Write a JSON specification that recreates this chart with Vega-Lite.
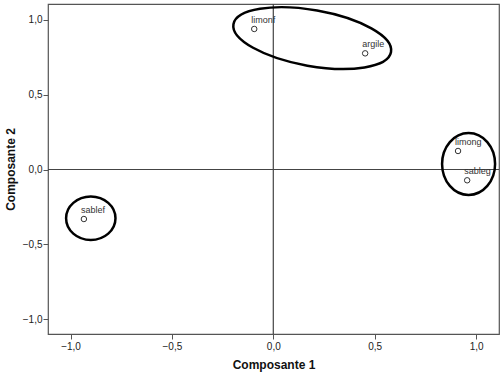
{
  "$schema": "https://vega.github.io/schema/vega-lite/v6.json",
  "width": 451,
  "height": 330,
  "autosize": "none",
  "padding": {"left": 48, "top": 4, "right": 4, "bottom": 44},
  "background": "white",
  "config": {
    "font": "Liberation Sans",
    "view": {"stroke": "#555555", "strokeWidth": 1.2},
    "axis": {
      "grid": false,
      "domain": false,
      "tickColor": "#555555",
      "tickSize": 5,
      "labelFontSize": 10,
      "labelColor": "#222222",
      "titleFontSize": 12,
      "titleFontWeight": "bold",
      "titleColor": "#111111"
    },
    "axisX": {"labelPadding": 2, "titlePadding": 8},
    "axisY": {"labelPadding": 1, "titlePadding": 5}
  },
  "layer": [
    {
      "data": {"values": [{"v": 0}]},
      "mark": {"type": "rule", "color": "#444444", "strokeWidth": 1.2},
      "encoding": {
        "x": {"field": "v", "type": "quantitative", "scale": {"domain": [-1.111, 1.113], "nice": false, "zero": false}, "title": "Composante 1",
          "axis": {"values": [-1, -0.5, 0, 0.5, 1], "labelExpr": "replace(format(datum.value, '.1f'), '.', ',')"}}
      }
    },
    {
      "data": {"values": [{"v": 0}]},
      "mark": {"type": "rule", "color": "#444444", "strokeWidth": 1.2},
      "encoding": {
        "y": {"field": "v", "type": "quantitative", "scale": {"domain": [-1.1, 1.107], "nice": false, "zero": false}, "title": "Composante 2",
          "axis": {"values": [-1, -0.5, 0, 0.5, 1], "labelExpr": "replace(format(datum.value, '.1f'), '.', ',')"}}
      }
    },
    {
      "data": {"values": [
        {"name": "limonf", "c1": -0.094, "c2": 0.94},
        {"name": "argile", "c1": 0.453, "c2": 0.777},
        {"name": "limong", "c1": 0.911, "c2": 0.124},
        {"name": "sableg", "c1": 0.956, "c2": -0.072},
        {"name": "sablef", "c1": -0.934, "c2": -0.331}
      ]},
      "encoding": {
        "x": {"field": "c1", "type": "quantitative"},
        "y": {"field": "c2", "type": "quantitative"}
      },
      "layer": [
        {"mark": {"type": "point", "filled": false, "size": 30, "stroke": "#333333", "strokeWidth": 1, "opacity": 1}},
        {"mark": {"type": "text", "align": "left", "baseline": "middle", "dx": -3, "dy": -9, "fontSize": 9, "color": "#333333"},
         "encoding": {"text": {"field": "name"}}}
      ]
    },
    {
      "data": {"values": [{"c1": 0.192, "c2": 0.879}]},
      "mark": {"type": "point", "shape": "M-80,0A80,28,0,1,0,80,0A80,28,0,1,0,-80,0Z", "size": 4, "angle": 10, "filled": false, "stroke": "black", "strokeWidth": 2.5, "opacity": 1},
      "encoding": {
        "x": {"field": "c1", "type": "quantitative"},
        "y": {"field": "c2", "type": "quantitative"}
      }
    },
    {
      "data": {"values": [{"c1": 0.963, "c2": 0.037}]},
      "mark": {"type": "point", "shape": "M-26.5,0A26.5,31,0,1,0,26.5,0A26.5,31,0,1,0,-26.5,0Z", "size": 4, "filled": false, "stroke": "black", "strokeWidth": 2.5, "opacity": 1},
      "encoding": {
        "x": {"field": "c1", "type": "quantitative"},
        "y": {"field": "c2", "type": "quantitative"}
      }
    },
    {
      "data": {"values": [{"c1": -0.9, "c2": -0.326}]},
      "mark": {"type": "point", "shape": "M-24.7,0A24.7,21.7,0,1,0,24.7,0A24.7,21.7,0,1,0,-24.7,0Z", "size": 4, "filled": false, "stroke": "black", "strokeWidth": 2.5, "opacity": 1},
      "encoding": {
        "x": {"field": "c1", "type": "quantitative"},
        "y": {"field": "c2", "type": "quantitative"}
      }
    }
  ]
}
